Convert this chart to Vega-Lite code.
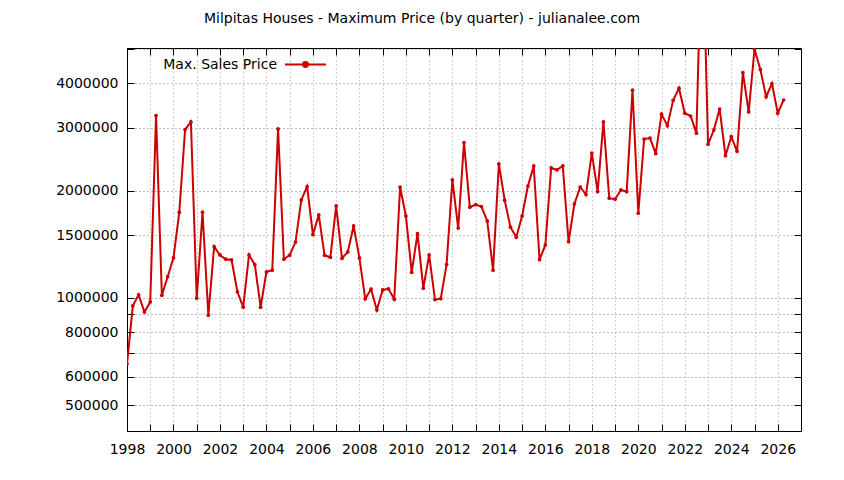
{
  "$schema": "https://vega.github.io/schema/vega-lite/v6.json",
  "width": 674,
  "height": 383,
  "autosize": {"type": "none"},
  "padding": {"left": 127, "top": 48, "right": 43, "bottom": 49},
  "background": "white",
  "title": {"text": "Milpitas Houses - Maximum Price (by quarter) - julianalee.com", "font": "DejaVu Sans", "fontSize": 14, "fontWeight": "normal", "color": "black", "anchor": "middle", "dx": -42, "offset": 16},
  "config": {
    "view": {"stroke": "black", "strokeWidth": 1},
    "font": "DejaVu Sans",
    "axis": {"labelFont": "DejaVu Sans", "labelFontSize": 14, "labelColor": "black", "domainColor": "black", "tickColor": "black", "gridDash": [1, 3], "gridWidth": 1}
  },
  "data": {"values": [
    {"t": 1998.0, "v": 652000}, {"t": 1998.25, "v": 950000}, {"t": 1998.5, "v": 1020000}, {"t": 1998.75, "v": 913000},
    {"t": 1999.0, "v": 974000}, {"t": 1999.25, "v": 3250000}, {"t": 1999.5, "v": 1017000}, {"t": 1999.75, "v": 1147000},
    {"t": 2000.0, "v": 1295000}, {"t": 2000.25, "v": 1740000}, {"t": 2000.5, "v": 2970000}, {"t": 2000.75, "v": 3120000},
    {"t": 2001.0, "v": 998000}, {"t": 2001.25, "v": 1740000}, {"t": 2001.5, "v": 894000}, {"t": 2001.75, "v": 1393000},
    {"t": 2002.0, "v": 1320000}, {"t": 2002.25, "v": 1284000}, {"t": 2002.5, "v": 1278000}, {"t": 2002.75, "v": 1040000},
    {"t": 2003.0, "v": 942000}, {"t": 2003.25, "v": 1320000}, {"t": 2003.5, "v": 1240000}, {"t": 2003.75, "v": 942000},
    {"t": 2004.0, "v": 1183000}, {"t": 2004.25, "v": 1196000}, {"t": 2004.5, "v": 2980000}, {"t": 2004.75, "v": 1284000},
    {"t": 2005.0, "v": 1318000}, {"t": 2005.25, "v": 1435000}, {"t": 2005.5, "v": 1884000}, {"t": 2005.75, "v": 2053000},
    {"t": 2006.0, "v": 1505000}, {"t": 2006.25, "v": 1710000}, {"t": 2006.5, "v": 1318000}, {"t": 2006.75, "v": 1300000},
    {"t": 2007.0, "v": 1812000}, {"t": 2007.25, "v": 1292000}, {"t": 2007.5, "v": 1346000}, {"t": 2007.75, "v": 1592000},
    {"t": 2008.0, "v": 1295000}, {"t": 2008.25, "v": 994000}, {"t": 2008.5, "v": 1058000}, {"t": 2008.75, "v": 925000},
    {"t": 2009.0, "v": 1053000}, {"t": 2009.25, "v": 1060000}, {"t": 2009.5, "v": 992000}, {"t": 2009.75, "v": 2048000},
    {"t": 2010.0, "v": 1698000}, {"t": 2010.25, "v": 1180000}, {"t": 2010.5, "v": 1515000}, {"t": 2010.75, "v": 1065000},
    {"t": 2011.0, "v": 1320000}, {"t": 2011.25, "v": 989000}, {"t": 2011.5, "v": 995000}, {"t": 2011.75, "v": 1240000},
    {"t": 2012.0, "v": 2143000}, {"t": 2012.25, "v": 1571000}, {"t": 2012.5, "v": 2730000}, {"t": 2012.75, "v": 1797000},
    {"t": 2013.0, "v": 1827000}, {"t": 2013.25, "v": 1805000}, {"t": 2013.5, "v": 1645000}, {"t": 2013.75, "v": 1196000},
    {"t": 2014.0, "v": 2377000}, {"t": 2014.25, "v": 1880000}, {"t": 2014.5, "v": 1579000}, {"t": 2014.75, "v": 1480000},
    {"t": 2015.0, "v": 1698000}, {"t": 2015.25, "v": 2060000}, {"t": 2015.5, "v": 2346000}, {"t": 2015.75, "v": 1280000},
    {"t": 2016.0, "v": 1408000}, {"t": 2016.25, "v": 2316000}, {"t": 2016.5, "v": 2287000}, {"t": 2016.75, "v": 2346000},
    {"t": 2017.0, "v": 1438000}, {"t": 2017.25, "v": 1835000}, {"t": 2017.5, "v": 2048000}, {"t": 2017.75, "v": 1950000},
    {"t": 2018.0, "v": 2551000}, {"t": 2018.25, "v": 1987000}, {"t": 2018.5, "v": 3120000}, {"t": 2018.75, "v": 1905000},
    {"t": 2019.0, "v": 1893000}, {"t": 2019.25, "v": 2010000}, {"t": 2019.5, "v": 1987000}, {"t": 2019.75, "v": 3830000},
    {"t": 2020.0, "v": 1729000}, {"t": 2020.25, "v": 2793000}, {"t": 2020.5, "v": 2810000}, {"t": 2020.75, "v": 2540000},
    {"t": 2021.0, "v": 3280000}, {"t": 2021.25, "v": 3045000}, {"t": 2021.5, "v": 3587000}, {"t": 2021.75, "v": 3880000},
    {"t": 2022.0, "v": 3300000}, {"t": 2022.25, "v": 3240000}, {"t": 2022.5, "v": 2900000}, {"t": 2022.75, "v": 12000000},
    {"t": 2023.0, "v": 2700000}, {"t": 2023.25, "v": 2960000}, {"t": 2023.5, "v": 3390000}, {"t": 2023.75, "v": 2507000},
    {"t": 2024.0, "v": 2835000}, {"t": 2024.25, "v": 2580000}, {"t": 2024.5, "v": 4290000}, {"t": 2024.75, "v": 3326000},
    {"t": 2025.0, "v": 5000000}, {"t": 2025.25, "v": 4380000}, {"t": 2025.5, "v": 3670000}, {"t": 2025.75, "v": 3995000},
    {"t": 2026.0, "v": 3300000}, {"t": 2026.25, "v": 3594000}
  ]},
  "layer": [
    {
      "mark": {"type": "line", "strokeWidth": 2, "clip": true, "point": {"filled": true, "size": 14, "color": "#cc0000"}},
      "encoding": {
        "x": {"field": "t", "type": "quantitative",
          "scale": {"domain": [1998, 2027], "nice": false, "zero": false},
          "axis": {"orient": "bottom", "title": null, "values": [1998,1999,2000,2001,2002,2003,2004,2005,2006,2007,2008,2009,2010,2011,2012,2013,2014,2015,2016,2017,2018,2019,2020,2021,2022,2023,2024,2025,2026],
            "format": "d", "labelExpr": "datum.value % 2 == 0 ? datum.label : ''", "tickSize": -7, "labelPadding": 18,
            "grid": true, "gridColor": "#a0a0a0", "labelFlush": false, "labelOverlap": false}},
        "y": {"field": "v", "type": "quantitative",
          "scale": {"type": "log", "domain": [423000, 5030000], "nice": false},
          "axis": {"orient": "left", "title": null, "values": [500000,600000,700000,800000,900000,1000000,1500000,2000000,3000000,4000000,5000000],
            "format": "d", "labelExpr": "(datum.value == 700000 || datum.value == 900000 || datum.value == 5000000) ? '' : datum.label",
            "tickSize": -7, "labelPadding": 16, "grid": true, "gridColor": "#808080", "labelOverlap": false, "labelFlush": false}},
        "color": {"datum": "Max. Sales Price", "scale": {"range": ["#cc0000"]},
          "legend": {"orient": "none", "legendX": 157, "legendY": -5, "padding": 0, "title": null,
            "symbolType": "M-1,0H1M-0.12,0A0.12,0.12,0,1,1,0.12,0A0.12,0.12,0,1,1,-0.12,0Z",
            "symbolSize": 1681, "symbolStrokeWidth": 2, "symbolStrokeColor": "#cc0000", "symbolFillColor": "#cc0000",
            "labelAlign": "right", "labelOffset": -50, "labelFontSize": 14, "labelColor": "black", "labelFont": "DejaVu Sans"}}
      }
    },
    {
      "mark": {"type": "line", "opacity": 0, "clip": true},
      "encoding": {
        "x": {"field": "t", "type": "quantitative",
          "axis": {"orient": "top", "title": null, "values": [1998,1999,2000,2001,2002,2003,2004,2005,2006,2007,2008,2009,2010,2011,2012,2013,2014,2015,2016,2017,2018,2019,2020,2021,2022,2023,2024,2025,2026],
            "labels": false, "tickSize": -7, "grid": false, "domain": false}},
        "y": {"field": "v", "type": "quantitative",
          "axis": {"orient": "right", "title": null, "values": [500000,600000,700000,800000,900000,1000000,1500000,2000000,3000000,4000000,5000000],
            "labels": false, "tickSize": -7, "grid": false, "domain": false}}
      }
    }
  ],
  "resolve": {"axis": {"x": "independent", "y": "independent"}}
}
